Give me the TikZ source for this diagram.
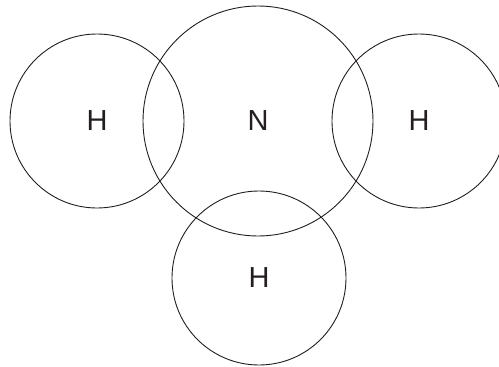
\documentclass[tikz,border=0pt]{standalone}
\usepackage{fontspec}
\setmainfont{Liberation Sans}
\usepackage{tikz}
\usetikzlibrary{positioning}
\definecolor{linegray}{RGB}{35,31,32}

\begin{document}
\begin{tikzpicture}[x=1pt, y=-1pt,
    atom/.style={circle, draw=linegray, line width=0.9pt, inner sep=0pt, text=linegray, font=\fontsize{29}{30}\selectfont},
    small/.style={atom, minimum size=174pt},
    big/.style={atom, minimum size=230pt}]
    \useasboundingbox (0,0) rectangle (499,367);
    % Central atom
    \node[big] (n) at (258,121) {N};
    % Hydrogen atoms
    \node[small] (hleft) at (97,121) {H};
    \node[small] (hright) at (419,121) {H};
    \node[small] (hbot) at (259,278) {H};
\end{tikzpicture}
\end{document}
